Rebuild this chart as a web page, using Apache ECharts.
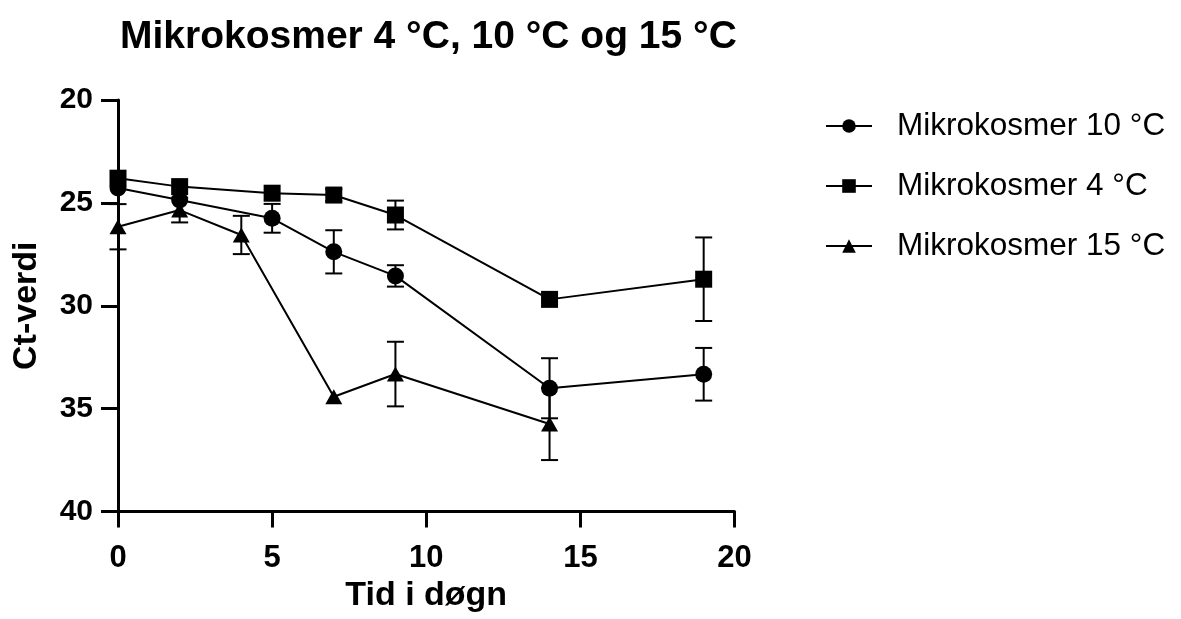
<!DOCTYPE html>
<html>
<head>
<meta charset="utf-8">
<script src="https://cdn.jsdelivr.net/npm/echarts@6/dist/echarts.min.js"></script>
<style>
html,body{margin:0;padding:0;background:#fff;}
#chart{width:1181px;height:619px;}
</style>
</head>
<body>
<div id="chart"></div>
<script>
const titleText = 'Mikrokosmer 4 °C, 10 °C og 15 °C';
const xTicks = [0, 5, 10, 15, 20];
const yTicks = [20, 25, 30, 35, 40];

const name10 = 'Mikrokosmer 10 °C';
const days10 = [0, 2, 5, 7, 9, 14, 19];
const mean10 = [24.28, 24.86, 25.75, 27.38, 28.55, 34.01, 33.33];
const sd10 = [0, 0, 0.7, 1.05, 0.52, 1.46, 1.28];

const name4 = 'Mikrokosmer 4 °C';
const days4 = [0, 2, 5, 7, 9, 14, 19];
const mean4 = [23.80, 24.21, 24.53, 24.62, 25.59, 29.69, 28.71];
const sd4 = [0, 0, 0, 0.3, 0.7, 0, 2.03];

const name15 = 'Mikrokosmer 15 °C';
const days15 = [0, 2, 4, 7, 9, 14];
const mean15 = [26.16, 25.35, 26.56, 34.42, 33.32, 35.75];
const sd15 = [1.1, 0.6, 0.93, 0, 1.57, 1.75];

const FONT = '"Liberation Sans", Arial, Helvetica, sans-serif';

function pts(d, m) { return d.map((x, i) => [x, m[i]]); }
function errs(d, m, s) { return d.map((x, i) => [x, m[i] - s[i], m[i] + s[i]]); }

function errRender(params, api) {
  const x = api.value(0);
  if (api.value(1) === api.value(2)) return null;
  const lo = api.coord([x, api.value(1)]);
  const hi = api.coord([x, api.value(2)]);
  const hw = 8.5;
  const st = { stroke: '#000', lineWidth: 2 };
  return {
    type: 'group',
    children: [
      { type: 'line', shape: { x1: lo[0], y1: lo[1], x2: hi[0], y2: hi[1] }, style: st },
      { type: 'line', shape: { x1: lo[0] - hw, y1: lo[1], x2: lo[0] + hw, y2: lo[1] }, style: st },
      { type: 'line', shape: { x1: hi[0] - hw, y1: hi[1], x2: hi[0] + hw, y2: hi[1] }, style: st }
    ]
  };
}

function lineSeries(name, d, m, symbol, size) {
  return {
    name: name, type: 'line', data: pts(d, m),
    symbol: symbol, symbolSize: size,
    itemStyle: { color: '#000' },
    lineStyle: { color: '#000', width: 2 },
    z: 5, animation: false
  };
}
function errSeries(d, m, s) {
  return {
    type: 'custom', data: errs(d, m, s), renderItem: errRender,
    encode: { x: 0, y: [1, 2] }, z: 3, clip: false, silent: true, animation: false
  };
}

const chart = echarts.init(document.getElementById('chart'));
chart.setOption({
  backgroundColor: '#fff',
  animation: false,
  title: {
    text: titleText, left: 115, top: 13,
    textStyle: { fontFamily: FONT, fontSize: 39, fontWeight: 'bold', color: '#000' }
  },
  legend: {
    orient: 'vertical', left: 825, top: 110, padding: 0,
    itemWidth: 46, itemHeight: 17, itemGap: 28,
    data: [name10, name4, name15],
    lineStyle: { width: 2 },
    textStyle: { fontFamily: FONT, fontSize: 31.5, color: '#000', lineHeight: 32, padding: [0, 0, 0, 20] }
  },
  grid: { left: 118, right: 446.5, top: 100, bottom: 107.5, containLabel: false },
  xAxis: {
    type: 'value', min: xTicks[0], max: xTicks[xTicks.length - 1], interval: 5,
    name: 'Tid i døgn', nameLocation: 'middle', nameGap: 64,
    nameTextStyle: { fontFamily: FONT, fontSize: 34, fontWeight: 'bold', color: '#000' },
    axisLine: { onZero: false, lineStyle: { color: '#000', width: 3 } },
    axisTick: { length: 16, lineStyle: { color: '#000', width: 3 } },
    axisLabel: { margin: 31, fontFamily: FONT, fontSize: 31, fontWeight: 'bold', color: '#000' },
    splitLine: { show: false }
  },
  yAxis: {
    type: 'value', inverse: true, min: yTicks[0], max: yTicks[yTicks.length - 1], interval: 5,
    name: 'Ct-verdi', nameLocation: 'middle', nameGap: 74, nameRotate: 90,
    nameTextStyle: { fontFamily: FONT, fontSize: 34, fontWeight: 'bold', color: '#000' },
    axisLine: { onZero: false, lineStyle: { color: '#000', width: 3 } },
    axisTick: { length: 17, lineStyle: { color: '#000', width: 3 } },
    axisLabel: { margin: 25, fontFamily: FONT, fontSize: 30, fontWeight: 'bold', color: '#000' },
    splitLine: { show: false }
  },
  series: [
    lineSeries(name10, days10, mean10, 'circle', 17),
    lineSeries(name4, days4, mean4, 'rect', 17),
    lineSeries(name15, days15, mean15, 'triangle', [17, 15]),
    errSeries(days10, mean10, sd10),
    errSeries(days4, mean4, sd4),
    errSeries(days15, mean15, sd15)
  ]
});
</script>
</body>
</html>
